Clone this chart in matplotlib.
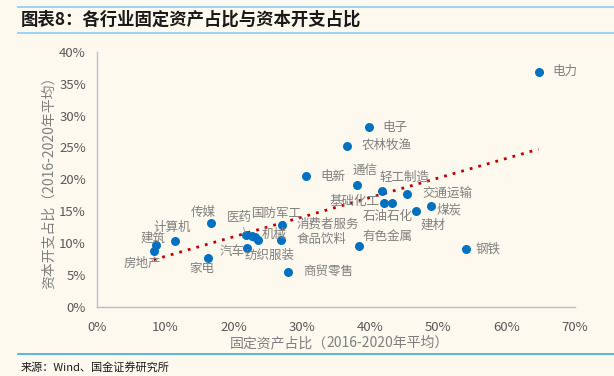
import numpy as np
import matplotlib.pyplot as plt
from matplotlib.ticker import PercentFormatter
from matplotlib.lines import Line2D

plt.rcParams['font.family'] = ['Noto Sans CJK SC', 'DejaVu Sans']

# industry, fixed-asset share (%), capex share (%)
industries = ["电力", "电子", "农林牧渔", "电新", "通信", "轻工制造", "交通运输",
              "基础化工", "石油石化", "建材", "煤炭", "有色金属", "钢铁",
              "传媒", "计算机", "建筑", "房地产", "家电", "医药", "国防军工",
              "机械", "纺织服装", "汽车", "消费者服务", "食品饮料", "商贸零售"]
fixed_share = [64.7, 39.8, 36.6, 30.6, 38.1, 41.7, 45.4,
               42.0, 43.2, 46.7, 49.0, 38.4, 54.0,
               16.7, 11.4, 8.6, 8.3, 16.3, 21.8, 22.7,
               23.1, 23.6, 22.0, 27.1, 26.9, 28.0]
capex_share = [36.9, 28.2, 25.3, 20.5, 19.1, 18.2, 17.7,
               16.3, 16.3, 15.1, 15.8, 9.6, 9.1,
               13.2, 10.4, 9.7, 8.8, 7.7, 11.3, 11.1,
               11.0, 10.5, 9.3, 12.9, 10.5, 5.5]

# label placement (pixel offsets from the marker, alignment)
label_pos = {
    "电力": (14, 0, "left"), "电子": (14, 0, "left"), "农林牧渔": (15, 0, "left"),
    "电新": (15, 0, "left"), "通信": (8, 14, "center"), "轻工制造": (23, 14, "center"),
    "交通运输": (16, 0, "left"), "基础化工": (-29, 1, "center"),
    "石油石化": (-4, -14, "center"), "建材": (17, -15, "center"),
    "煤炭": (5, -4, "left"), "有色金属": (28, 9, "center"), "钢铁": (10, 0, "left"),
    "传媒": (-8, 10, "center"), "计算机": (-3, 13, "center"), "建筑": (-3, 7, "center"),
    "房地产": (-11, -13, "center"), "家电": (-7, -11, "center"),
    "医药": (-6, 17, "center"), "国防军工": (25, 23, "center"),
    "机械": (7, 2, "left"), "纺织服装": (12, -15, "center"),
    "汽车": (-15, -4, "center"), "消费者服务": (15, 0, "left"),
    "食品饮料": (16, 0, "left"), "商贸零售": (15, 0, "left"),
}

bg = "#FEF9EE"
fig = plt.figure(figsize=(6.14, 3.76), dpi=100, facecolor=bg)
ax = fig.add_axes([0.158, 0.184, 0.778, 0.678], facecolor=bg)

x = np.array(fixed_share)
y = np.array(capex_share)
ax.scatter(x, y, s=42, color="#0070C0", zorder=3, linewidths=0)

# linear trend line
k, b = np.polyfit(x, y, 1)
xt = np.array([x.min(), x.max()])
ax.plot(xt, k * xt + b, color="#C00000", linestyle=(0, (1, 2.2)), linewidth=2, zorder=2)

for name, xi, yi in zip(industries, x, y):
    dx, dy, ha = label_pos[name]
    ax.annotate(name, (xi, yi), xytext=(dx, dy), textcoords="offset pixels",
                ha=ha, va="center", fontsize=9, color="#7F7F7F", zorder=4)
# leader line for 医药
ax.annotate("", (21.8, 11.3), xytext=(-3, 10), textcoords="offset pixels",
            arrowprops=dict(arrowstyle="-", color="#A6A6A6", lw=0.8))

ax.set_xlim(0, 70)
ax.set_ylim(0, 40)
ax.set_xticks(np.arange(0, 71, 10))
ax.set_yticks(np.arange(0, 41, 5))
ax.xaxis.set_major_formatter(PercentFormatter(decimals=0))
ax.yaxis.set_major_formatter(PercentFormatter(decimals=0))
ax.tick_params(length=0, labelsize=9.5, colors="#595959", pad=10)
ax.tick_params(axis="y", pad=8)
for s in ["top", "right"]:
    ax.spines[s].set_visible(False)
for s in ["left", "bottom"]:
    ax.spines[s].set_color("#BFBFBF")
    ax.spines[s].set_linewidth(1)

ax.set_ylabel("资本开支占比（2016-2020年平均）", fontsize=10, color="#7F7F7F", labelpad=2)

# x label with italic part
fig.text(0.532, 0.088, "固定资产占比（", ha="right", va="center", fontsize=10, color="#7F7F7F")
fig.text(0.532, 0.088, "2016-2020年平均）", ha="left", va="center", fontsize=10,
         color="#7F7F7F", style="italic")

# title and frame lines
fig.add_artist(Line2D([0.03, 1.0], [0.982, 0.982], color="#9DD3EE", lw=1.5))
fig.add_artist(Line2D([0.03, 1.0], [0.912, 0.912], color="#9DD3EE", lw=1.5))
fig.text(0.034, 0.947, "图表8：各行业固定资产占比与资本开支占比", ha="left", va="center",
         fontsize=12.5, fontweight="bold", style="italic", color="#1A1A1A")
fig.add_artist(Line2D([0.03, 1.0], [0.059, 0.059], color="#3AA8E0", lw=1.2))
fig.text(0.034, 0.024, "来源：Wind、国金证券研究所", ha="left", va="center",
         fontsize=8, color="#1A1A1A")

fig.savefig("out.png", dpi=100, facecolor=bg)
